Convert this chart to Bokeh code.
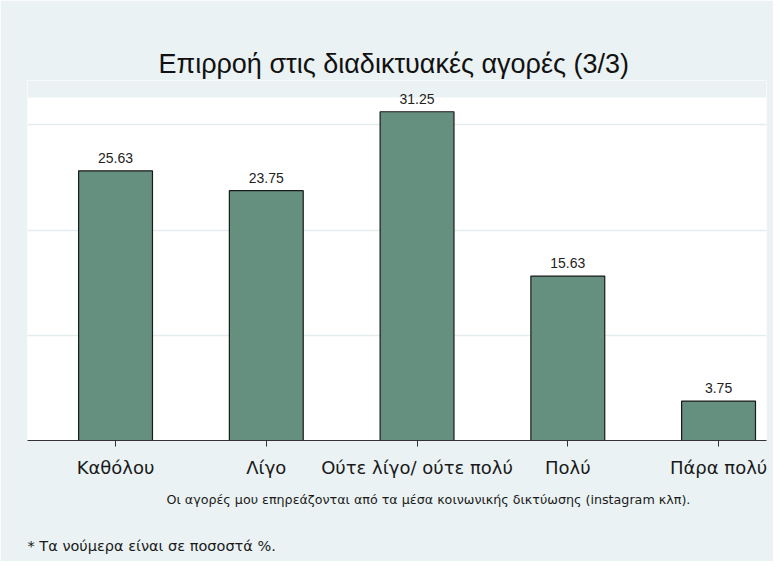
from bokeh.plotting import figure
from bokeh.models import Range1d, FixedTicker, ColumnDataSource, LabelSet, Title, BoxAnnotation
from bokeh.core.properties import value
from bokeh.embed import file_html
from bokeh.resources import INLINE

categories = ["Καθόλου", "Λίγο", "Ούτε λίγο/ ούτε πολύ", "Πολύ", "Πάρα πολύ"]
values = [25.63, 23.75, 31.25, 15.63, 3.75]
value_labels = ["25.63", "23.75", "31.25", "15.63", "3.75"]
positions = [1, 2, 3, 4, 5]
y_grid = [10, 20, 30]

title_text = "Επιρροή στις διαδικτυακές αγορές (3/3)"
xtitle_text = "Οι αγορές μου επηρεάζονται από τα μέσα κοινωνικής δικτύωσης (instagram κλπ)."
note_text = "* Τα νούμερα είναι σε ποσοστά %."

BG = "#EAF2F3"
BAR = "#65907F"
FONT = "Liberation Sans"
FONT2 = "DejaVu Sans"
PLOT_TOP = 32.6

p = figure(width=773, height=561, output_backend="svg", toolbar_location=None,
           x_range=Range1d(0.416, 5.318), y_range=Range1d(0, 34.22),
           min_border_left=27, min_border_right=7, min_border_top=80, min_border_bottom=121)
p.background_fill_color = "white"
p.border_fill_color = BG
p.outline_line_color = None

# band above the plot region shares the outer background
p.add_layout(BoxAnnotation(bottom=PLOT_TOP, fill_color=BG, fill_alpha=1.0,
                           line_color=None, level="underlay"))

src = ColumnDataSource(dict(x=positions, top=values, lab=value_labels))
p.vbar(x="x", top="top", width=0.49, bottom=0, source=src,
       fill_color=BAR, line_color="#1a1a1a", line_width=1.2)

p.add_layout(LabelSet(x="x", y="top", text="lab", source=src, y_offset=8,
                      text_align="center", text_baseline="bottom",
                      text_font=value(FONT), text_font_size="14px", text_color="#222222"))

p.yaxis.visible = False
p.ygrid.ticker = FixedTicker(ticks=y_grid)
p.ygrid.grid_line_color = "#E4ECEE"
p.ygrid.grid_line_width = 1.5
p.xgrid.visible = False

p.xaxis.ticker = FixedTicker(ticks=positions)
p.xaxis.major_label_overrides = {pos: c for pos, c in zip(positions, categories)}
p.xaxis.axis_line_color = "#333333"
p.xaxis.axis_line_width = 1.2
p.xaxis.major_tick_line_color = "#333333"
p.xaxis.major_tick_in = 0
p.xaxis.major_tick_out = 6
p.xaxis.minor_tick_line_color = None
p.xaxis.major_label_standoff = 10
p.xaxis.major_label_text_font = FONT2
p.xaxis.major_label_text_font_size = "18px"
p.xaxis.major_label_text_color = "#1a1a1a"

p.add_layout(Title(text=title_text, align="left", offset=131, text_font=FONT, text_font_size="27px",
                   text_font_style="normal", text_color="#111111", standoff=4), "above")
p.add_layout(Title(text=xtitle_text, align="left", offset=139, text_font=FONT2,
                   text_font_size="12.7px", text_font_style="normal", text_color="#1a1a1a",
                   standoff=18), "below")
p.add_layout(Title(text="\n" + note_text, align="left", offset=0, text_font=FONT2,
                   text_font_size="14.5px", text_font_style="normal", text_color="#1a1a1a",
                   standoff=9), "below")

open("out.html", "w").write(file_html(p, INLINE))
